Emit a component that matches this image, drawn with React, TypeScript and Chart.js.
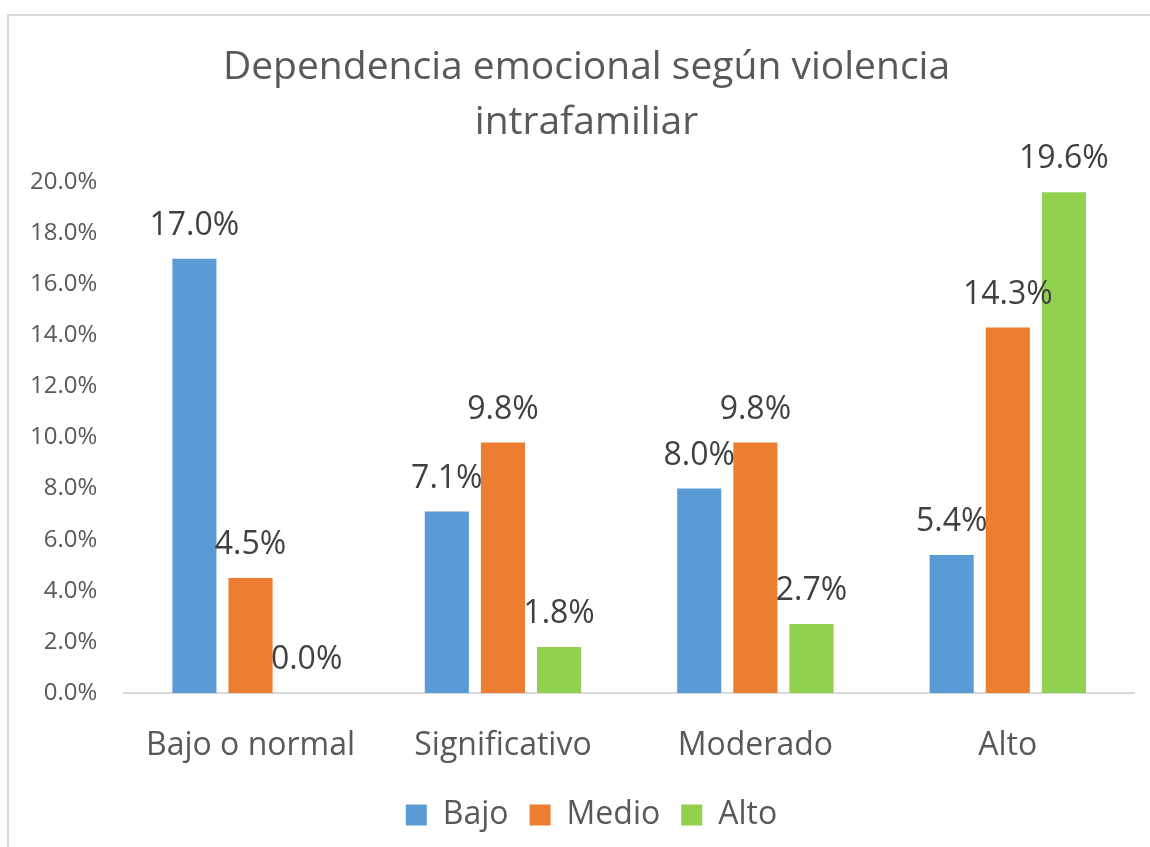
import React, { useEffect, useRef } from "react";
import { Chart, registerables } from "chart.js";

Chart.register(...registerables);

const categories = ["Bajo o normal", "Significativo", "Moderado", "Alto"];
const seriesNames = ["Bajo", "Medio", "Alto"];
const bajoValues = [17.0, 7.1, 8.0, 5.4];
const medioValues = [4.5, 9.8, 9.8, 14.3];
const altoValues = [0.0, 1.8, 2.7, 19.6];
const seriesColors = ["#5B9BD5", "#ED7D31", "#92D050"];
const titleLines = ["Dependencia emocional según violencia", "intrafamiliar"];

const FONT = "'Open Sans', 'Noto Sans', sans-serif";

const frameAndLabels = {
  id: "frameAndLabels",
  afterLayout(chart: any) {
    if (chart.titleBlock) {
      chart.titleBlock.left += 14;
      chart.titleBlock.right += 14;
    }
    if (chart.legend) {
      chart.legend.left += 19;
      chart.legend.right += 19;
    }
  },
  beforeDraw(chart: any) {
    const ctx = chart.ctx;
    ctx.save();
    ctx.fillStyle = "#ffffff";
    ctx.fillRect(0, 0, chart.width, chart.height);
    ctx.strokeStyle = "#d9d9d9";
    ctx.lineWidth = 2;
    ctx.beginPath();
    ctx.moveTo(8, chart.height + 5);
    ctx.lineTo(8, 15);
    ctx.lineTo(chart.width + 5, 15);
    ctx.stroke();
    ctx.restore();
  },
  afterDatasetsDraw(chart: any) {
    const ctx = chart.ctx;
    ctx.save();
    ctx.font = `32px ${FONT}`;
    ctx.fillStyle = "#404040";
    ctx.textAlign = "center";
    ctx.textBaseline = "middle";
    chart.data.datasets.forEach((ds: any, i: number) => {
      const meta = chart.getDatasetMeta(i);
      meta.data.forEach((bar: any, j: number) => {
        const v = ds.data[j];
        ctx.fillText(v.toFixed(1) + "%", bar.x, bar.y - 33);
      });
    });
    ctx.restore();
  },
};

export default function App() {
  const ref = useRef<HTMLCanvasElement>(null);
  useEffect(() => {
    const chart = new Chart(ref.current!, {
      type: "bar",
      data: {
        labels: categories,
        datasets: [bajoValues, medioValues, altoValues].map((d, i) => ({
          label: seriesNames[i],
          data: d,
          backgroundColor: seriesColors[i],
          borderWidth: 0,
          categoryPercentage: 0.667,
          barPercentage: 0.786,
        })),
      },
      options: {
        responsive: false,
        animation: false,
        layout: { padding: { top: 40, left: 11, right: 16, bottom: 6 } },
        plugins: {
          title: {
            display: true,
            text: titleLines,
            color: "#595959",
            font: { family: FONT, size: 39, weight: "normal", lineHeight: 1.41 },
            padding: { top: 0, bottom: 32 },
          },
          legend: {
            position: "bottom",
            labels: {
              color: "#595959",
              font: { family: FONT, size: 32 },
              boxWidth: 21,
              boxHeight: 21,
              padding: 21,
            },
          },
          tooltip: { enabled: false },
        },
        scales: {
          x: {
            grid: { display: false },
            border: { display: true, color: "#d9d9d9", width: 2 },
            ticks: { color: "#595959", font: { family: FONT, size: 32 }, padding: 26 },
            afterFit: (scale: any) => {
              scale.height = 85;
            },
          },
          y: {
            min: 0,
            max: 20,
            grid: { display: false },
            border: { display: false },
            ticks: {
              stepSize: 2,
              color: "#595959",
              font: { family: FONT, size: 24 },
              padding: 19,
              callback: (v: any) => Number(v).toFixed(1) + "%",
            },
          },
        },
      },
      plugins: [frameAndLabels],
    });
    return () => chart.destroy();
  }, []);
  return (
    <div style={{ position: "fixed", left: 0, top: 0 }}>
      <canvas ref={ref} width={1150} height={847} />
    </div>
  );
}
